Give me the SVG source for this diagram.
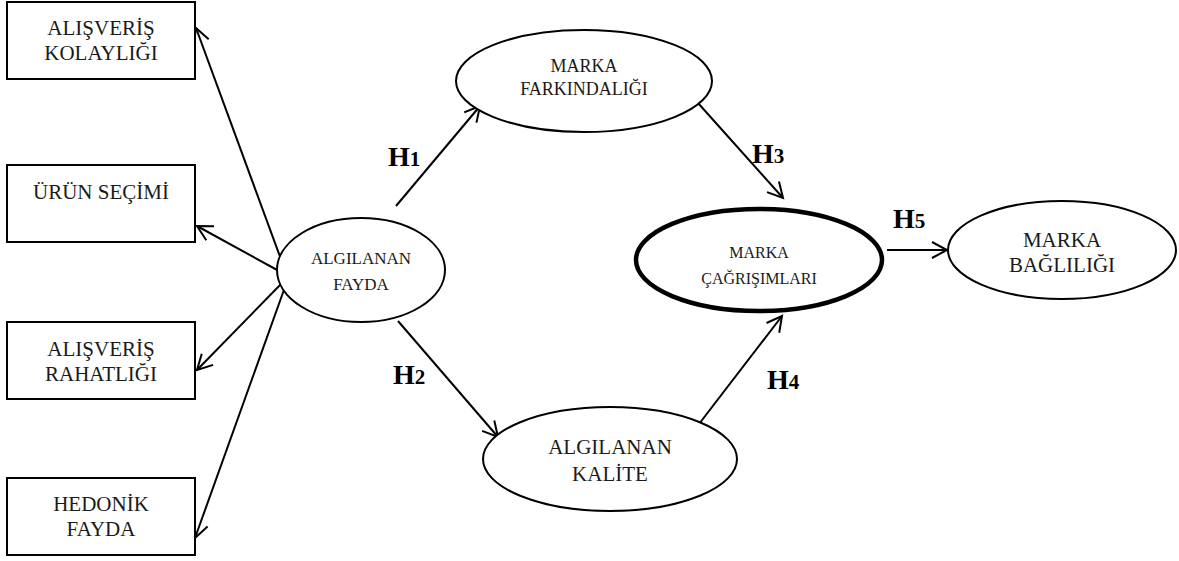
<svg xmlns="http://www.w3.org/2000/svg" width="1179" height="561" viewBox="0 0 1179 561" font-family="'Liberation Serif', 'Times New Roman', 'DejaVu Serif', serif">
<defs>
<style>
.box{fill:#fff;stroke:#000;stroke-width:2}
.ell{fill:#fff;stroke:#000;stroke-width:2}
.thick{fill:#fff;stroke:#000;stroke-width:4.5}
text{font-family:'Liberation Serif','Times New Roman',serif}
.t{fill:#1a1a1a;text-anchor:middle}
.h{font-weight:bold;fill:#000}
.c{stroke:#000;stroke-width:2;fill:none;marker-end:url(#arr)}
</style>
<marker id="arr" markerUnits="userSpaceOnUse" markerWidth="20" markerHeight="20" viewBox="0 0 20 20" refX="16" refY="10" orient="auto">
<path d="M1,2 L16,10 L1,18" fill="none" stroke="#000" stroke-width="2"/>
</marker>
</defs>
<rect width="1179" height="561" fill="#fff"/>
<g id="connectors">
<line class="c" x1="282" y1="262" x2="196" y2="28"/>
<line class="c" x1="279" y1="271" x2="197" y2="226"/>
<line class="c" x1="282" y1="283" x2="197" y2="370"/>
<line class="c" x1="285" y1="287" x2="195" y2="538"/>
<line class="c" x1="396" y1="206" x2="480" y2="106"/>
<line class="c" x1="398" y1="321" x2="498" y2="437"/>
<line class="c" x1="698" y1="103" x2="783" y2="198"/>
<line class="c" x1="699" y1="424" x2="782" y2="316"/>
<line class="c" x1="887" y1="250" x2="947" y2="250"/>
</g>
<g id="n-kolaylik"><rect class="box" x="7" y="2" width="188" height="77"/><text class="t" x="101" y="35" font-size="21">ALIŞVERİŞ</text><text class="t" x="101" y="60" font-size="21">KOLAYLIĞI</text></g>
<g id="n-urun"><rect class="box" x="7" y="165" width="188" height="77"/><text class="t" x="101" y="199" font-size="21">ÜRÜN SEÇİMİ</text></g>
<g id="n-rahatlik"><rect class="box" x="7" y="322" width="188" height="77"/><text class="t" x="101" y="356" font-size="21">ALIŞVERİŞ</text><text class="t" x="101" y="381" font-size="21">RAHATLIĞI</text></g>
<g id="n-hedonik"><rect class="box" x="7" y="478" width="188" height="77"/><text class="t" x="101" y="511" font-size="21">HEDONİK</text><text class="t" x="101" y="536" font-size="21">FAYDA</text></g>
<g id="n-fayda"><ellipse class="ell" cx="361" cy="270" rx="84" ry="52"/><text class="t" x="361" y="264" font-size="17">ALGILANAN</text><text class="t" x="361" y="290" font-size="17">FAYDA</text></g>
<g id="n-farkindalik"><ellipse class="ell" cx="584" cy="81" rx="128" ry="51"/><text class="t" x="584" y="72" font-size="18">MARKA</text><text class="t" x="584" y="95" font-size="18">FARKINDALIĞI</text></g>
<g id="n-kalite"><ellipse class="ell" cx="610" cy="459" rx="127" ry="52"/><text class="t" x="610" y="454" font-size="21">ALGILANAN</text><text class="t" x="610" y="481" font-size="21">KALİTE</text></g>
<g id="n-cagrisim"><ellipse class="thick" cx="759" cy="260" rx="123" ry="51"/><text class="t" x="759" y="258" font-size="16">MARKA</text><text class="t" x="759" y="284" font-size="16">ÇAĞRIŞIMLARI</text></g>
<g id="n-baglilik"><ellipse class="ell" cx="1062" cy="250" rx="114" ry="49"/><text class="t" x="1062" y="247" font-size="21">MARKA</text><text class="t" x="1062" y="272" font-size="21">BAĞLILIĞI</text></g>
<g id="labels">
<text class="h" x="388" y="166" font-size="28">H<tspan font-size="21">1</tspan></text>
<text class="h" x="393" y="384" font-size="28">H<tspan font-size="21">2</tspan></text>
<text class="h" x="752" y="163" font-size="28">H<tspan font-size="21">3</tspan></text>
<text class="h" x="767" y="389" font-size="28">H<tspan font-size="21">4</tspan></text>
<text class="h" x="893" y="228" font-size="28">H<tspan font-size="21">5</tspan></text>
</g>
</svg>
